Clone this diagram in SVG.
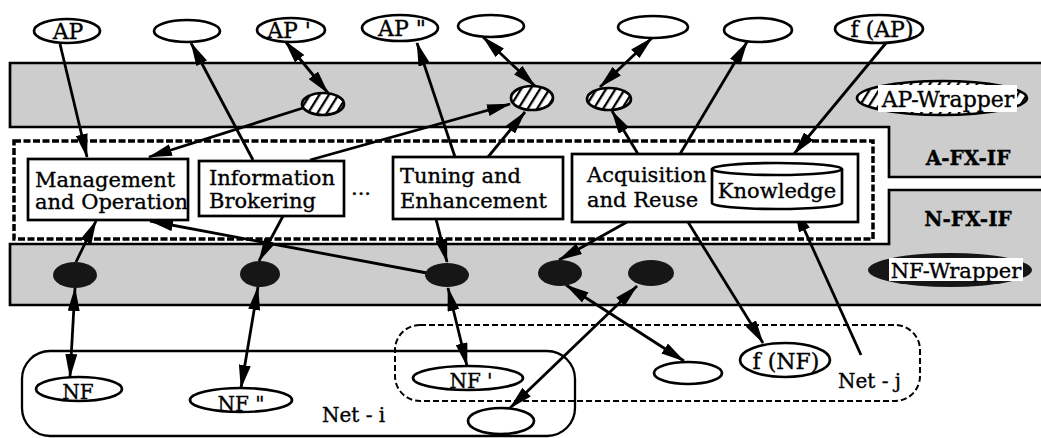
<svg xmlns="http://www.w3.org/2000/svg" width="1041" height="438" viewBox="0 0 1041 438">
<defs>
  <marker id="ah" viewBox="0 0 24 12" refX="23" refY="6" markerWidth="24" markerHeight="12" markerUnits="userSpaceOnUse" orient="auto-start-reverse">
    <path d="M0,0 L24,6 L0,12 z" fill="#000"/>
  </marker>
  <pattern id="hatch" patternUnits="userSpaceOnUse" width="8" height="8" patternTransform="rotate(32)">
    <rect width="8" height="8" fill="#fff"/>
    <line x1="1" y1="0" x2="1" y2="8" stroke="#000" stroke-width="2.6"/>
  </pattern>
  <style>
    .band{fill:#cdcdcd;stroke:#000;stroke-width:2.7}
    .box{fill:#fff;stroke:#000;stroke-width:2.7}
    .ell{fill:#fff;stroke:#000;stroke-width:2.7}
    .blk{fill:#161616}
    .hat{fill:url(#hatch);stroke:#000;stroke-width:2.7}
    .dash{fill:none;stroke:#000;stroke-width:3.5;stroke-dasharray:7 2.5}
    .net{fill:none;stroke:#000;stroke-width:2.3}
    .netd{fill:none;stroke:#000;stroke-width:2;stroke-dasharray:6 3}
    #connectors line{stroke:#000;stroke-width:2.8;marker-end:url(#ah)}
    #connectors line.dbl{marker-start:url(#ah)}
    text{font-family:"DejaVu Serif","Liberation Serif",serif;font-size:21px;fill:#000;stroke:#000;stroke-width:0.35}
    .lbl{font-size:22px;text-anchor:middle}
    .tag{font-size:20px;font-weight:bold;text-anchor:middle}
  </style>
</defs>

<rect width="1041" height="438" fill="#fff"/>

<!-- wrapper bands -->
<g id="ap-band">
  <path class="band" d="M10,63 L1046,63 L1046,177 L889,177 L889,127 L10,127 Z"/>
</g>
<g id="nf-band">
  <path class="band" d="M10,244 L889,244 L889,190 L1046,190 L1046,305 L10,305 Z"/>
</g>
<g id="fx-frame">
  <rect class="dash" x="14" y="141" width="859" height="98"/>
</g>
<g id="if-labels">
  <text class="tag" x="968" y="165">A-FX-IF</text>
  <text class="tag" x="968" y="226">N-FX-IF</text>
</g>

<!-- networks -->
<g id="net-i">
  <rect class="net" x="22" y="351" width="553" height="85" rx="28"/>
  <text x="322" y="422" style="font-size:20px">Net - i</text>
</g>
<g id="net-j">
  <rect class="netd" x="395" y="325" width="525" height="76" rx="25"/>
  <text x="838" y="388" style="font-size:20px">Net - j</text>
</g>

<!-- connectors -->
<g id="connectors">
  <line x1="60" y1="44" x2="87" y2="157"/>
  <line x1="253" y1="160" x2="191" y2="43"/>
  <line class="dbl" x1="285" y1="41" x2="328" y2="93"/>
  <line x1="303" y1="108" x2="149" y2="157"/>
  <line x1="310" y1="160" x2="510" y2="104"/>
  <line x1="455" y1="157" x2="417" y2="43"/>
  <line x1="488" y1="157" x2="525" y2="112"/>
  <line class="dbl" x1="483" y1="37" x2="535" y2="86"/>
  <line class="dbl" x1="652" y1="38" x2="600" y2="87"/>
  <line x1="638" y1="154" x2="612" y2="111"/>
  <line x1="680" y1="154" x2="747" y2="42"/>
  <line x1="886" y1="43" x2="794" y2="154"/>
  <line x1="76" y1="262" x2="96" y2="221"/>
  <line x1="427" y1="273" x2="150" y2="221"/>
  <line x1="283" y1="216" x2="259" y2="261"/>
  <line x1="436" y1="219" x2="447" y2="262"/>
  <line x1="627" y1="222" x2="559" y2="260"/>
  <line x1="688" y1="222" x2="763" y2="343"/>
  <line x1="861" y1="355" x2="795" y2="209"/>
  <line class="dbl" x1="75" y1="288" x2="70" y2="377"/>
  <line class="dbl" x1="258" y1="287" x2="241" y2="388"/>
  <line class="dbl" x1="448" y1="288" x2="467" y2="366"/>
  <line class="dbl" x1="566" y1="285" x2="684" y2="361"/>
  <line class="dbl" x1="637" y1="286" x2="510" y2="408"/>
</g>

<!-- application-side nodes -->
<g id="ap"><ellipse class="ell" cx="67" cy="31" rx="33" ry="12"/><text class="lbl" x="68" y="39">AP</text></g>
<g id="ap-out1"><ellipse class="ell" cx="187" cy="31" rx="33" ry="11"/></g>
<g id="ap1"><ellipse class="ell" cx="291" cy="30" rx="34" ry="12"/><text class="lbl" x="289" y="38">AP '</text></g>
<g id="ap2"><ellipse class="ell" cx="400" cy="28" rx="38" ry="13"/><text class="lbl" x="402" y="36">AP "</text></g>
<g id="ap-out2"><ellipse class="ell" cx="491" cy="26" rx="33" ry="11"/></g>
<g id="ap-out3"><ellipse class="ell" cx="653" cy="27" rx="35" ry="11"/></g>
<g id="ap-out4"><ellipse class="ell" cx="758" cy="30" rx="34" ry="12"/></g>
<g id="f-ap"><ellipse class="ell" cx="879" cy="29" rx="44" ry="14"/><text class="lbl" x="882" y="37">f (AP)</text></g>

<!-- AP wrappers -->
<g id="apw1"><ellipse class="hat" cx="323" cy="104" rx="21" ry="11"/></g>
<g id="apw2"><ellipse class="hat" cx="532" cy="98" rx="21" ry="12"/></g>
<g id="apw3"><ellipse class="hat" cx="609" cy="99" rx="22" ry="11"/></g>
<g id="ap-wrapper-key">
  <ellipse class="hat" cx="942" cy="98" rx="85" ry="17"/>
  <rect x="878" y="85" width="139" height="27" fill="#fff"/>
  <text x="948" y="107" style="font-size:22px;text-anchor:middle">AP-Wrapper</text>
</g>

<!-- function modules -->
<g id="mgmt">
  <rect class="box" x="28" y="159" width="160" height="61"/>
  <text x="35" y="187">Management</text>
  <text x="35" y="209">and Operation</text>
</g>
<g id="brokering">
  <rect class="box" x="199" y="161" width="145" height="55"/>
  <text x="209" y="185">Information</text>
  <text x="209" y="208">Brokering</text>
</g>
<g id="more"><text x="351" y="195">...</text></g>
<g id="tuning">
  <rect class="box" x="393" y="157" width="170" height="62"/>
  <text x="400" y="183">Tuning and</text>
  <text x="400" y="208">Enhancement</text>
</g>
<g id="acquisition">
  <rect class="box" x="572" y="154" width="286" height="68"/>
  <text x="587" y="182">Acquisition</text>
  <text x="587" y="207">and Reuse</text>
</g>
<g id="knowledge">
  <path class="box" d="M712,169 L712,203 A65,6 0 0 0 842,203 L842,169"/>
  <ellipse class="box" cx="777" cy="169" rx="65" ry="6"/>
  <text x="777" y="198" style="text-anchor:middle">Knowledge</text>
</g>

<!-- NF wrappers -->
<g id="nfw1"><ellipse class="blk" cx="75" cy="275" rx="22" ry="13"/></g>
<g id="nfw2"><ellipse class="blk" cx="260" cy="274" rx="20" ry="13"/></g>
<g id="nfw3"><ellipse class="blk" cx="447" cy="275" rx="22" ry="12"/></g>
<g id="nfw4"><ellipse class="blk" cx="560" cy="273" rx="22" ry="13"/></g>
<g id="nfw5"><ellipse class="blk" cx="651" cy="273" rx="23" ry="13"/></g>
<g id="nf-wrapper-key">
  <ellipse class="blk" cx="950" cy="270" rx="82" ry="17"/>
  <rect x="889" y="258" width="134" height="23" fill="#fff"/>
  <text x="956" y="278" style="font-size:21px;text-anchor:middle">NF-Wrapper</text>
</g>

<!-- network-side nodes -->
<g id="nf"><ellipse class="ell" cx="79" cy="389" rx="43" ry="12"/><text class="lbl" x="78" y="399" style="font-size:20px">NF</text></g>
<g id="nf2"><ellipse class="ell" cx="241" cy="400" rx="51" ry="12"/><text class="lbl" x="241" y="411" style="font-size:20px">NF "</text></g>
<g id="nf1"><ellipse class="ell" cx="468" cy="378" rx="55" ry="12"/><text class="lbl" x="471" y="388" style="font-size:20px">NF '</text></g>
<g id="nf-out1"><ellipse class="ell" cx="501" cy="421" rx="33" ry="13"/></g>
<g id="nf-out2"><ellipse class="ell" cx="688" cy="373" rx="34" ry="11"/></g>
<g id="f-nf"><ellipse class="ell" cx="785" cy="360" rx="45" ry="17"/><text class="lbl" x="786" y="369">f (NF)</text></g>
</svg>
